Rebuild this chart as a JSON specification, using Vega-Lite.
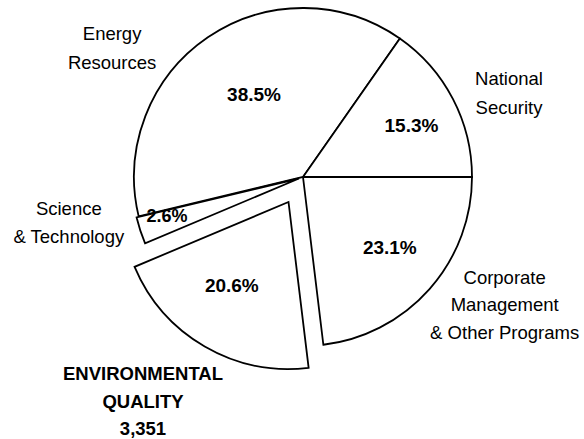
{
  "$schema": "https://vega.github.io/schema/vega-lite/v6.json",
  "width": 562,
  "height": 354,
  "autosize": "none",
  "padding": {"left": 22, "top": 0, "right": 0, "bottom": 85},
  "background": "white",
  "config": {"view": {"stroke": null}, "text": {"font": "Liberation Sans", "color": "black"}},
  "data": {
    "values": [
      {"cat": "Corporate", "label": "Corporate\nManagement\n& Other Programs", "pct": 23.1, "order": 1},
      {"cat": "Environmental", "label": "ENVIRONMENTAL\nQUALITY\n3,351", "pct": 20.6, "order": 2},
      {"cat": "Science", "label": "Science\n& Technology", "pct": 2.6, "order": 3},
      {"cat": "Energy", "label": "Energy\nResources", "pct": 38.5, "order": 4},
      {"cat": "National", "label": "National\nSecurity", "pct": 15.3, "order": 5}
    ]
  },
  "transform": [
    {"stack": "pct", "groupby": [], "sort": [{"field": "order", "order": "ascending"}], "as": ["t0", "t1"]},
    {"calculate": "(datum.t0 + datum.t1) / 2", "as": "mid"},
    {"calculate": "format(datum.pct, '.1f') + '%'", "as": "pctText"}
  ],
  "layer": [
    {
      "transform": [{"filter": "datum.cat !== 'Environmental' && datum.cat !== 'Science'"}],
      "mark": {"type": "arc", "outerRadius": 169, "fill": "white", "stroke": "black", "strokeWidth": 1.8, "strokeJoin": "miter"},
      "encoding": {
        "theta": {"field": "t0", "type": "quantitative", "stack": null, "scale": {"domain": [0, 100.1], "range": [1.5708, 7.854]}},
        "theta2": {"field": "t1"}
      }
    },
    {
      "transform": [{"filter": "datum.cat === 'Science'"}],
      "mark": {"type": "arc", "outerRadius": 167, "fill": "white", "stroke": "black", "strokeWidth": 1.8, "strokeJoin": "miter", "xOffset": -4, "yOffset": 1.5},
      "encoding": {
        "theta": {"field": "t0", "type": "quantitative", "stack": null},
        "theta2": {"field": "t1"}
      }
    },
    {
      "transform": [{"filter": "datum.cat === 'Environmental'"}],
      "mark": {"type": "arc", "outerRadius": 167, "fill": "white", "stroke": "black", "strokeWidth": 1.8, "strokeJoin": "miter", "xOffset": -14.5, "yOffset": 25},
      "encoding": {
        "theta": {"field": "t0", "type": "quantitative", "stack": null},
        "theta2": {"field": "t1"}
      }
    },
    {
      "transform": [{"filter": "datum.cat === 'Energy'"}],
      "mark": {"type": "text", "radius": 95, "dx": 4.5, "dy": -3, "fontSize": 19, "fontWeight": "bold", "align": "center", "baseline": "middle"},
      "encoding": {"theta": {"field": "mid", "type": "quantitative", "stack": null}, "text": {"field": "pctText"}}
    },
    {
      "transform": [{"filter": "datum.cat === 'National'"}],
      "mark": {"type": "text", "radius": 120, "dx": 2, "dy": 4.5, "fontSize": 19, "fontWeight": "bold", "align": "center", "baseline": "middle"},
      "encoding": {"theta": {"field": "mid", "type": "quantitative", "stack": null}, "text": {"field": "pctText"}}
    },
    {
      "transform": [{"filter": "datum.cat === 'Corporate'"}],
      "mark": {"type": "text", "radius": 112, "dx": 3, "dy": -3, "fontSize": 19, "fontWeight": "bold", "align": "center", "baseline": "middle"},
      "encoding": {"theta": {"field": "mid", "type": "quantitative", "stack": null}, "text": {"field": "pctText"}}
    },
    {
      "transform": [{"filter": "datum.cat === 'Science'"}],
      "mark": {"type": "text", "radius": 142, "dx": -1, "dy": -4, "fontSize": 18, "fontWeight": "bold", "align": "center", "baseline": "middle"},
      "encoding": {"theta": {"field": "mid", "type": "quantitative", "stack": null}, "text": {"field": "pctText"}}
    },
    {
      "transform": [{"filter": "datum.cat === 'Environmental'"}],
      "mark": {"type": "text", "radius": 101, "dx": -20.5, "dy": 22, "fontSize": 19, "fontWeight": "bold", "align": "center", "baseline": "middle"},
      "encoding": {"theta": {"field": "mid", "type": "quantitative", "stack": null}, "text": {"field": "pctText"}}
    },
    {
      "transform": [{"filter": "datum.cat === 'Energy'"}],
      "mark": {"type": "text", "radius": 213, "dx": -71, "dy": 33.5, "fontSize": 18.5, "lineBreak": "\n", "lineHeight": 29, "align": "center", "baseline": "middle"},
      "encoding": {"theta": {"field": "mid", "type": "quantitative", "stack": null}, "text": {"field": "label"}}
    },
    {
      "transform": [{"filter": "datum.cat === 'National'"}],
      "mark": {"type": "text", "radius": 221, "dx": 10, "dy": 4.5, "fontSize": 18.5, "lineBreak": "\n", "lineHeight": 29, "align": "center", "baseline": "middle"},
      "encoding": {"theta": {"field": "mid", "type": "quantitative", "stack": null}, "text": {"field": "label"}}
    },
    {
      "transform": [{"filter": "datum.cat === 'Science'"}],
      "mark": {"type": "text", "radius": 237, "dx": -9, "dy": -42, "fontSize": 18.5, "lineBreak": "\n", "lineHeight": 28, "align": "center", "baseline": "middle"},
      "encoding": {"theta": {"field": "mid", "type": "quantitative", "stack": null}, "text": {"field": "label"}}
    },
    {
      "transform": [{"filter": "datum.cat === 'Corporate'"}],
      "mark": {"type": "text", "radius": 236, "dx": 25, "dy": -55.5, "fontSize": 18.5, "lineBreak": "\n", "lineHeight": 27.5, "align": "center", "baseline": "middle"},
      "encoding": {"theta": {"field": "mid", "type": "quantitative", "stack": null}, "text": {"field": "label"}}
    },
    {
      "transform": [{"filter": "datum.cat === 'Environmental'"}],
      "mark": {"type": "text", "radius": 275, "dx": -22, "dy": -40.5, "fontSize": 18.5, "fontWeight": "bold", "lineBreak": "\n", "lineHeight": 27.5, "align": "center", "baseline": "middle"},
      "encoding": {"theta": {"field": "mid", "type": "quantitative", "stack": null}, "text": {"field": "label"}}
    }
  ]
}
